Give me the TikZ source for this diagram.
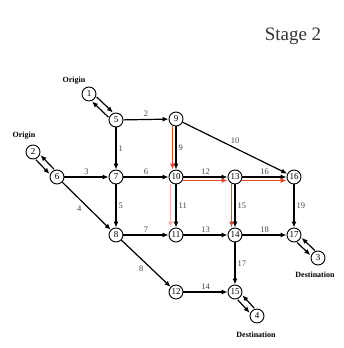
\documentclass[tikz,border=0pt]{standalone}
\usepackage{fontspec}
\setmainfont{Liberation Serif}
\usetikzlibrary{arrows.meta}
\definecolor{pathred}{RGB}{238,72,40}
\definecolor{pathpink}{RGB}{255,175,170}
\definecolor{labgray}{RGB}{70,70,70}
\begin{document}
\begin{tikzpicture}[x=1pt,y=-1pt,
  vtx/.style={circle, draw, line width=0.9pt, minimum size=14pt, inner sep=0pt,
              fill=white, font=\fontsize{9}{9}\selectfont},
  arc/.style={-{Latex[length=6pt,width=5pt]}, line width=1.2pt},
  hl/.style={-{Latex[length=6pt,width=5pt]}, line width=1.2pt, draw=pathred, fill=pathred},
  hlsoft/.style={-{Latex[length=6pt,width=5pt]}, line width=1.2pt, draw=pathpink, fill=pathpink},
  lab/.style={font=\fontsize{8.5}{9}\selectfont, text=labgray, inner sep=2pt},
  tag/.style={font=\fontsize{8}{8}\selectfont\bfseries, inner sep=0pt},
]
\useasboundingbox (0,0) rectangle (343,348);

\node[font=\fontsize{19}{20}\selectfont, text=black!80] (title) at (293,36) {Stage 2};

% vertices
\node[vtx] (n1)  at (89,94)   {1};
\node[vtx] (n5)  at (116,120) {5};
\node[vtx] (n9)  at (176,119) {9};
\node[vtx] (n2)  at (33,152)  {2};
\node[vtx] (n6)  at (57,177)  {6};
\node[vtx] (n7)  at (116,177) {7};
\node[vtx] (n10) at (176,177) {10};
\node[vtx] (n13) at (235,177) {13};
\node[vtx] (n16) at (294,177) {16};
\node[vtx] (n8)  at (116,235) {8};
\node[vtx] (n11) at (176,235) {11};
\node[vtx] (n14) at (235,235) {14};
\node[vtx] (n17) at (294,235) {17};
\node[vtx] (n12) at (176,292) {12};
\node[vtx] (n15) at (235,292) {15};
\node[vtx] (n4)  at (257,316) {4};
\node[vtx] (n3)  at (318,258) {3};

% origin / destination tags
\node[tag] (o1) at (74,81)   {Origin};
\node[tag] (o2) at (24,136)  {Origin};
\node[tag] (d3) at (315,275) {Destination};
\node[tag] (d4) at (256,335) {Destination};

% two-way links to the terminals
\draw[arc, transform canvas={shift={(2.3,-2.3)}}] (n1) -- (n5);
\draw[arc, transform canvas={shift={(-2.3,2.3)}}] (n5) -- (n1);
\draw[arc, transform canvas={shift={(2.3,-2.3)}}] (n6) -- (n2);
\draw[arc, transform canvas={shift={(-2.3,2.3)}}] (n2) -- (n6);
\draw[arc, transform canvas={shift={(2.3,-2.3)}}] (n3) -- (n17);
\draw[arc, transform canvas={shift={(-2.3,2.3)}}] (n17) -- (n3);
\draw[arc, transform canvas={shift={(2.3,-2.3)}}] (n4) -- (n15);
\draw[arc, transform canvas={shift={(-2.3,2.3)}}] (n15) -- (n4);

% network links
\draw[arc] (n5) -- node[lab, above] {2} (n9);
\draw[arc] (n5) -- node[lab, right] {1} (n7);
\draw[arc] (n6) -- node[lab, above] {3} (n7);
\draw[arc] (n7) -- node[lab, above] {6} (n10);
\draw[arc] (n6) -- node[lab, below left, pos=0.45] {4} (n8);
\draw[arc] (n7) -- node[lab, right] {5} (n8);
\draw[arc] (n8) -- node[lab, above] {7} (n11);
\draw[arc] (n8) -- node[lab, below left] {8} (n12);
\draw[arc] (n9) -- node[lab, right] {9} (n10);
\draw[arc] (n9) -- node[lab, above, inner sep=4pt] {10} (n16);
\draw[arc] (n10) -- node[lab, right] {11} (n11);
\draw[arc] (n10) -- node[lab, above] {12} (n13);
\draw[arc] (n11) -- node[lab, above] {13} (n14);
\draw[arc] (n12) -- node[lab, above] {14} (n15);
\draw[arc] (n13) -- node[lab, right] {15} (n14);
\draw[arc] (n13) -- node[lab, above] {16} (n16);
\draw[arc] (n14) -- node[lab, right] {17} (n15);
\draw[arc] (n14) -- node[lab, above] {18} (n17);
\draw[arc] (n16) -- node[lab, right] {19} (n17);

% highlighted route
\draw[hl, transform canvas={xshift=-3.5pt}] (n9) -- (n10);
\draw[hl, transform canvas={yshift=-3.5pt}] (n10) -- (n13);
\draw[hl, transform canvas={xshift=-3.5pt}] (n13) -- (n14);
\draw[hl, transform canvas={yshift=-3.5pt}] (n13) -- (n16);
\draw[hlsoft, transform canvas={xshift=-5.5pt}] (n10) -- (n11);
\end{tikzpicture}
\end{document}
